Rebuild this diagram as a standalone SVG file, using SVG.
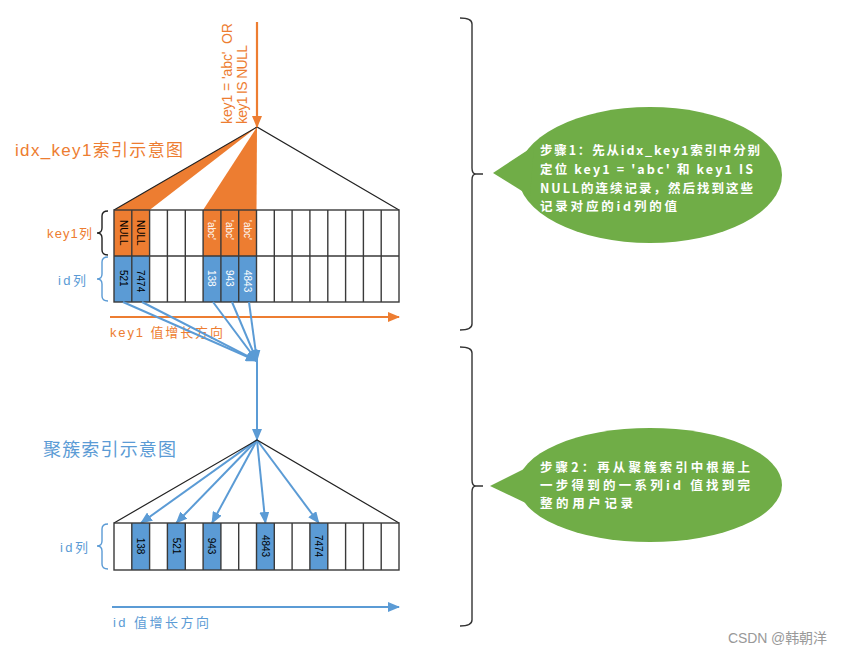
<svg xmlns="http://www.w3.org/2000/svg" width="843" height="655" viewBox="0 0 843 655">
<style>
.o{fill:#ED7D31}.b{fill:#5B9BD5}
.cjk{font-family:"Liberation Sans","Noto Sans CJK SC",sans-serif}
.cell{font-family:"Liberation Sans",sans-serif;font-size:10px}
.grid{fill:none;stroke:#3a3a3a;stroke-width:1.4}
.tri{fill:none;stroke:#222;stroke-width:1.2}
.bl{stroke:#5B9BD5;stroke-width:2;fill:none}
.ol{stroke:#ED7D31;stroke-width:2.2;fill:none}
.brace{fill:none;stroke-width:1.4}
.call{font-family:"Noto Sans CJK SC",sans-serif;font-size:12.5px;font-weight:bold;fill:#fff}
</style>
<defs>
<marker id="ao" markerUnits="userSpaceOnUse" markerWidth="12" markerHeight="10" refX="11" refY="5" orient="auto"><path d="M0,0 L12,5 L0,10 z" fill="#ED7D31"/></marker>
<marker id="ab" markerUnits="userSpaceOnUse" markerWidth="12" markerHeight="10" refX="11" refY="5" orient="auto"><path d="M0,0 L12,5 L0,10 z" fill="#5B9BD5"/></marker>
</defs>
<rect width="843" height="655" fill="#fff"/>

<g id="idx-tree">
<polygon class="o" points="257,127 114,210 149.6,210"/>
<polygon class="o" points="257,127 203.1,210 256.5,210"/>
<path class="tri" d="M114,210 L257,127 L399,210"/>
</g>

<g id="query-label">
<text class="cjk" font-size="14" fill="#ED7D31" transform="translate(232,124) rotate(-90)" textLength="101" lengthAdjust="spacing" xml:space="preserve">key1 = 'abc'  OR</text>
<text class="cjk" font-size="14" fill="#ED7D31" transform="translate(247,124) rotate(-90)" textLength="79" lengthAdjust="spacing">key1 IS NULL</text>
</g>

<g id="idx-title"><text class="cjk" x="15" y="156" font-size="17" fill="#ED7D31" textLength="168" lengthAdjust="spacing">idx_key1索引示意图</text></g>

<g id="idx-table">
<rect class="o" x="114" y="210" width="35.6" height="46"/>
<rect class="o" x="203.1" y="210" width="53.4" height="46"/>
<rect class="b" x="114" y="256" width="35.6" height="46"/>
<rect class="b" x="203.1" y="256" width="53.4" height="46"/>
<rect class="grid" x="114" y="210" width="285" height="92"/>
<path class="grid" d="M114,256 H399 M131.8,210 V302 M149.6,210 V302 M167.4,210 V302 M185.3,210 V302 M203.1,210 V302 M220.9,210 V302 M238.7,210 V302 M256.5,210 V302 M274.3,210 V302 M292.1,210 V302 M309.9,210 V302 M327.8,210 V302 M345.6,210 V302 M363.4,210 V302 M381.2,210 V302"/>
<text class="cell" fill="#000" transform="translate(120.3,220) rotate(90)">NULL</text>
<text class="cell" fill="#000" transform="translate(137.1,220) rotate(90)">NULL</text>
<text class="cell" fill="#fff" transform="translate(208.4,220) rotate(90)">'abc'</text>
<text class="cell" fill="#fff" transform="translate(226.2,220) rotate(90)">'abc'</text>
<text class="cell" fill="#fff" transform="translate(244,220) rotate(90)">'abc'</text>
<text class="cell" fill="#000" transform="translate(120.3,270) rotate(90)">521</text>
<text class="cell" fill="#000" transform="translate(137.1,270) rotate(90)">7474</text>
<text class="cell" fill="#fff" transform="translate(208.4,270) rotate(90)">138</text>
<text class="cell" fill="#fff" transform="translate(226.2,270) rotate(90)">943</text>
<text class="cell" fill="#fff" transform="translate(244,270) rotate(90)">4843</text>
</g>

<g id="idx-labels">
<path class="brace" stroke="#222" d="M108,211 Q102,211 102,216 L102,228 Q102,233 97,233 Q102,233 102,238 L102,250 Q102,255 108,255"/>
<text class="cjk" x="47" y="238" font-size="13" fill="#ED7D31" textLength="45" lengthAdjust="spacing">key1列</text>
<path class="brace" stroke="#5B9BD5" d="M108,257 Q102,257 102,262 L102,274 Q102,279 97,279 Q102,279 102,284 L102,296 Q102,301 108,301"/>
<text class="cjk" x="58" y="285" font-size="13" fill="#5B9BD5" textLength="28" lengthAdjust="spacing">id列</text>
<line class="ol" x1="110" y1="317" x2="399" y2="317" marker-end="url(#ao)"/>
<text class="cjk" x="110" y="337" font-size="13" fill="#ED7D31" textLength="113" lengthAdjust="spacing" xml:space="preserve">key1 值增长方向</text>
</g>

<g id="connectors">
<line class="ol" x1="257" y1="22" x2="257" y2="127" marker-end="url(#ao)"/>
<line class="bl" x1="123" y1="302" x2="257" y2="361" marker-end="url(#ab)"/>
<line class="bl" x1="142" y1="302" x2="257" y2="361" marker-end="url(#ab)"/>
<line class="bl" x1="213" y1="302" x2="257" y2="361" marker-end="url(#ab)"/>
<line class="bl" x1="232" y1="302" x2="257" y2="361" marker-end="url(#ab)"/>
<line class="bl" x1="249" y1="302" x2="257" y2="361" marker-end="url(#ab)"/>
<line class="bl" x1="257" y1="361" x2="257" y2="440" marker-end="url(#ab)"/>
<line class="bl" x1="257" y1="440" x2="141" y2="523" marker-end="url(#ab)"/>
<line class="bl" x1="257" y1="440" x2="176.3" y2="523" marker-end="url(#ab)"/>
<line class="bl" x1="257" y1="440" x2="212" y2="523" marker-end="url(#ab)"/>
<line class="bl" x1="257" y1="440" x2="265.4" y2="523" marker-end="url(#ab)"/>
<line class="bl" x1="257" y1="440" x2="318.8" y2="523" marker-end="url(#ab)"/>
</g>

<g id="clustered-title"><text class="cjk" x="43" y="456" font-size="18" fill="#5B9BD5" textLength="133" lengthAdjust="spacing">聚簇索引示意图</text></g>

<g id="clustered-tree"><path class="tri" d="M114,523 L257,440 L399,523"/></g>

<g id="clustered-table">
<rect class="b" x="131.8" y="523" width="17.8" height="47"/>
<rect class="b" x="167.4" y="523" width="17.9" height="47"/>
<rect class="b" x="203.1" y="523" width="17.8" height="47"/>
<rect class="b" x="256.5" y="523" width="17.8" height="47"/>
<rect class="b" x="309.9" y="523" width="17.9" height="47"/>
<rect class="grid" x="114" y="523" width="285" height="47"/>
<path class="grid" d="M131.8,523 V570 M149.6,523 V570 M167.4,523 V570 M185.3,523 V570 M203.1,523 V570 M220.9,523 V570 M238.7,523 V570 M256.5,523 V570 M274.3,523 V570 M292.1,523 V570 M309.9,523 V570 M327.8,523 V570 M345.6,523 V570 M363.4,523 V570 M381.2,523 V570"/>
<text class="cell" fill="#000" text-anchor="middle" transform="translate(137.1,546) rotate(90)">138</text>
<text class="cell" fill="#000" text-anchor="middle" transform="translate(172.7,546) rotate(90)">521</text>
<text class="cell" fill="#000" text-anchor="middle" transform="translate(208.4,546) rotate(90)">943</text>
<text class="cell" fill="#000" text-anchor="middle" transform="translate(261.8,546) rotate(90)">4843</text>
<text class="cell" fill="#000" text-anchor="middle" transform="translate(315.2,546) rotate(90)">7474</text>
</g>

<g id="clustered-labels">
<path class="brace" stroke="#5B9BD5" d="M108,524 Q102,524 102,529 L102,541 Q102,546 97,546 Q102,546 102,551 L102,564 Q102,569 108,569"/>
<text class="cjk" x="60" y="552" font-size="13" fill="#5B9BD5" textLength="28" lengthAdjust="spacing">id列</text>
<line class="bl" x1="112" y1="607" x2="399" y2="607" marker-end="url(#ab)"/>
<text class="cjk" x="113" y="627" font-size="13" fill="#5B9BD5" textLength="96" lengthAdjust="spacing" xml:space="preserve">id 值增长方向</text>
</g>

<g id="step1">
<path class="brace" stroke="#333" d="M460,18 Q472,18 472,24 L472,168 Q472,174 476,174 L483,174 M476,174 Q472,174 472,180 L472,324 Q472,330 460,330"/>
<ellipse cx="650" cy="175" rx="132" ry="68" fill="#70AD47"/>
<polygon points="493,173 534,146 530,196" fill="#70AD47"/>
<text class="call" x="540" y="155" textLength="220" lengthAdjust="spacing">步骤1：先从idx_key1索引中分别</text>
<text class="call" x="540" y="174" textLength="213" lengthAdjust="spacing">定位 key1 = 'abc' 和 key1 IS</text>
<text class="call" x="540" y="193" textLength="213" lengthAdjust="spacing">NULL的连续记录，然后找到这些</text>
<text class="call" x="540" y="211" textLength="137" lengthAdjust="spacing">记录对应的id列的值</text>
</g>

<g id="step2">
<path class="brace" stroke="#333" d="M460,347 Q472,347 472,353 L472,480 Q472,486 476,486 L483,486 M476,486 Q472,486 472,492 L472,620 Q472,626 460,626"/>
<ellipse cx="650" cy="485" rx="132" ry="57" fill="#70AD47"/>
<polygon points="490,486 530,466 530,505" fill="#70AD47"/>
<text class="call" x="540" y="472" textLength="210" lengthAdjust="spacing">步骤2：再从聚簇索引中根据上</text>
<text class="call" x="540" y="490" textLength="210" lengthAdjust="spacing">一步得到的一系列id 值找到完</text>
<text class="call" x="540" y="508" textLength="93" lengthAdjust="spacing">整的用户记录</text>
</g>

<g id="watermark"><text class="cjk" x="728" y="643" font-size="14" fill="#999" textLength="99" lengthAdjust="spacing">CSDN @韩朝洋</text></g>
</svg>
